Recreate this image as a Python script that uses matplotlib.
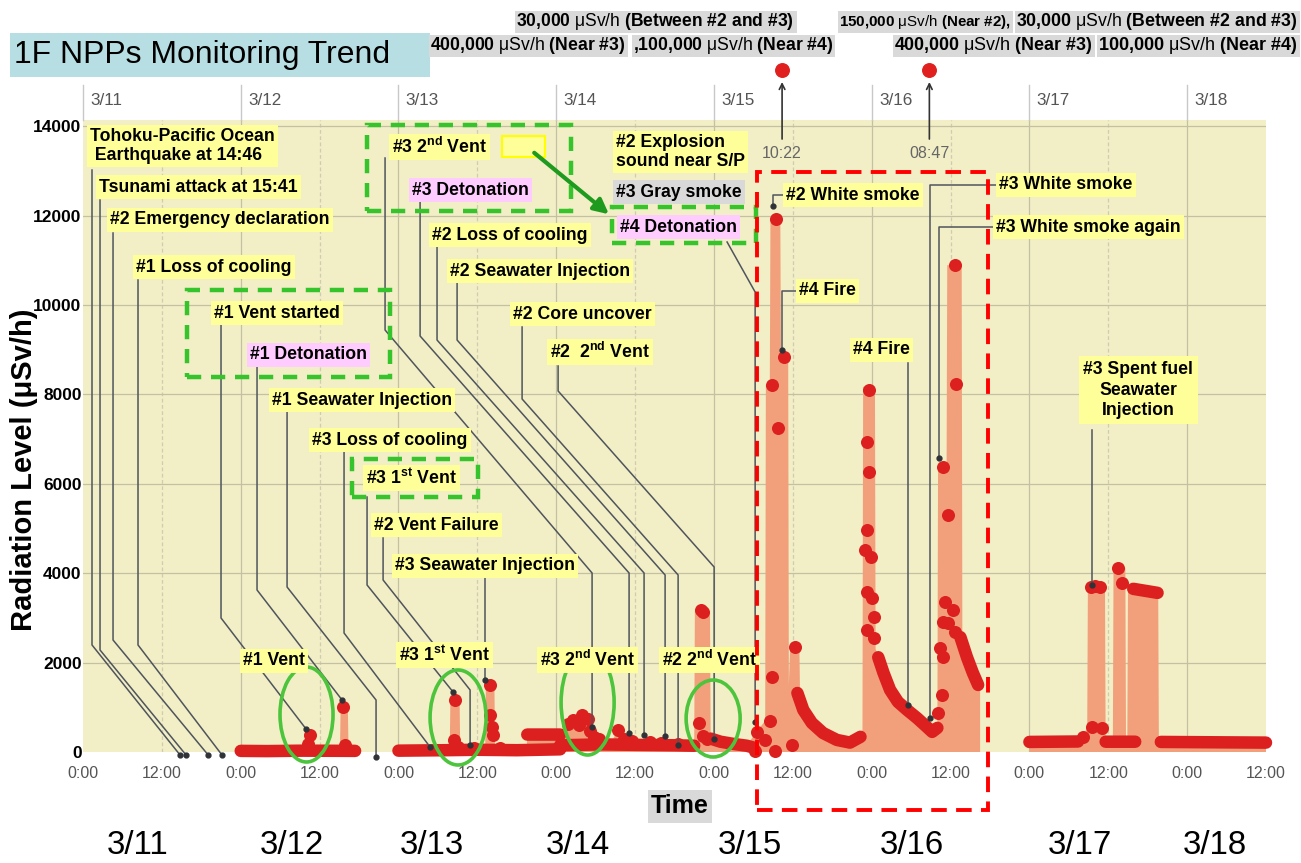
import numpy as np
import matplotlib
matplotlib.use("Agg")
import matplotlib.pyplot as plt
from matplotlib import font_manager as fm
from matplotlib.patches import Rectangle, Ellipse, FancyArrowPatch

nan = np.nan

# hours counted from 3/11 0:00, values in uSv/h
days = ["3/11", "3/12", "3/13", "3/14", "3/15", "3/16", "3/17", "3/18"]

# salmon area under the readings
env_t = [24.0, 34.0, 34.1, 35.0, 35.1, 39.1, 39.2, 40.3, 40.4, 41.4, nan,
         48.0, 55.8, 55.9, 57.3, 57.4, 61.2, 61.3, 62.6, 62.7, 67.5, 67.6, 72.6,
         73.4, 74.8, 76.0, 77.2, 78.5, 80.5, 81.4, 82.5, 86.0, 90.0, 93.0, 93.1,
         95.4, 95.5, 97.0, 99.0, 101.0, 102.5, 103.8, 103.9, 104.5, 104.6, 106.1,
         106.2, 107.3, 107.4, 107.6, 109.0, 109.1, 109.6, 110.9, 112.6, 114.7,
         116.7, 118.3, 118.6, 118.7, 120.5, 120.6, 121.0, 121.8, 122.8, 124.0,
         125.4, 126.9, 128.4, 129.2, 130.0, 130.1, 131.4, 131.5, 133.7, 133.8,
         134.5, 135.4, 136.5, nan,
         144.0, 151.4, 152.2, 152.8, 152.9, 155.5, 155.6, 156.7, 156.8, 158.6,
         158.7, 158.9, 159.0, 163.6, 163.7, 180.0]
env_v = [30, 30, 420, 420, 30, 30, 1000, 1000, 30, 30, nan,
         40, 40, 1160, 1160, 40, 40, 1500, 1500, 40, 40, 390, 390,
         600, 720, 820, 480, 300, 250, 490, 300, 250, 200, 180, 3150,
         3150, 300, 230, 180, 150, 450, 700, 8210, 8210, 11930, 11930,
         8840, 8840, 1500, 2350, 2350, 1320, 940, 650, 425, 270,
         210, 340, 340, 8170, 8170, 2300, 2120, 1770, 1390, 1120,
         940, 760, 560, 450, 540, 6380, 6380, 10890, 10890, 2570,
         2120, 1770, 1500, nan,
         225, 235, 335, 560, 3700, 3700, 230, 230, 4110, 4110,
         230, 230, 3650, 3560, 225, 210]

# dense runs of readings (drawn as a thick dotted band)
trace_t = [24.0, 28.0, 33.5, 41.4, nan,
           48.0, 55.0, 60.0, 66.0, 72.6, nan,
           67.6, 72.6, nan,
           72.6, 78.7, 84.0, 90.0, 93.0, nan,
           95.5, 97.0, 99.0, 101.0, 102.0, nan,
           108.7, 109.6, 110.9, 112.6, 114.7, 116.7, 118.3, nan,
           121.0, 121.8, 122.8, 124.0, 125.4, 126.9, 128.4, 129.2, 130.0, nan,
           133.5, 134.5, 135.4, 136.2, nan,
           144.0, 151.4, nan,
           155.6, 160.1, nan,
           159.8, 163.5, nan,
           164.0, 180.0]
trace_v = [25, 20, 30, 25, nan,
           30, 40, 50, 40, 60, nan,
           390, 390, nan,
           150, 170, 160, 150, 140, nan,
           300, 230, 180, 140, 100, nan,
           1320, 940, 650, 425, 270, 210, 340, nan,
           2120, 1770, 1390, 1120, 940, 760, 560, 450, 540, nan,
           2570, 2120, 1770, 1500, nan,
           225, 235, nan,
           230, 230, nan,
           3650, 3560, nan,
           225, 210]

# single readings
dot_t = [34.5, 34.2, 39.6, 39.8,
         56.6, 56.4, 57.0, 61.9, 62.0, 62.2, 62.4, 59.5, 63.5,
         73.8, 74.6, 75.5, 76.0, 76.8, 77.2, 77.8, 78.5, 81.4, 82.3, 83.5,
         86.3, 88.0, 90.5, 93.8, 94.0, 94.4, 94.3, 95.0,
         102.3, 102.6, 103.8, 104.6, 104.9, 104.9, 105.4, 105.8, 106.6, 105.3,
         107.9, 108.4,
         119.6, 119.3, 119.6, 119.3, 119.0, 119.9, 119.3, 120.1, 120.4, 119.3,
         120.4, 130.1, 130.7, 130.4, 130.9, 130.9, 131.6, 131.2, 132.4, 132.7,
         131.6, 130.9, 132.7, 132.9,
         152.2, 153.6, 155.1, 153.3, 154.0, 154.8, 157.5, 158.1]
dot_v = [380, 180, 1000, 150,
         1160, 270, 120, 1500, 830, 560, 380, 80, 100,
         620, 720, 600, 830, 740, 480, 330, 280, 490, 300, 250,
         230, 210, 190, 650, 3180, 3130, 350, 280,
         20, 450, 270, 700, 1680, 8210, 11930, 7250, 8840, 20,
         150, 2350,
         8100, 6940, 6260, 4970, 4520, 4360, 3580, 3440, 3020, 2730,
         2550, 870, 1280, 2330, 2120, 2900, 2890, 3360, 3180, 2680,
         5300, 6380, 10890, 8230,
         335, 560, 530, 3700, 3720, 3700, 4110, 3780]

# off-scale peaks shown above the chart
peak_t = [106.37, 128.78]
peak_lbl = ["10:22", "08:47"]

# event labels: text, hour, level, box colour
labels = [
    ("Tohoku-Pacific Ocean\n Earthquake at 14:46", 1.07, 13556, "y"),
    ("Tsunami attack at 15:41", 2.43, 12639, "y"),
    ("#2 Emergency declaration", 4.11, 11901, "y"),
    ("#1 Loss of cooling", 8.07, 10849, "y"),
    ("#1 Vent started", 19.94, 9820, "y"),
    ("#1 Detonation", 25.41, 8881, "p"),
    ("#1 Seawater Injection", 28.76, 7874, "y"),
    ("#3 Loss of cooling", 34.85, 6979, "y"),
    (r"#3 1$^{\mathbf{st}}$ Vent", 43.07, 6129, "y"),
    ("#2 Vent Failure", 44.29, 5078, "y"),
    ("#3 Seawater Injection", 47.48, 4161, "y"),
    (r"#3 2$^{\mathbf{nd}}$ Vent", 47.02, 13534, "y"),
    ("#3 Detonation", 50.07, 12572, "p"),
    ("#2 Loss of cooling", 53.11, 11565, "y"),
    ("#2 Seawater Injection", 55.85, 10760, "y"),
    ("#2 Core uncover", 65.44, 9798, "y"),
    (r"#2  2$^{\mathbf{nd}}$ Vent", 71.07, 8948, "y"),
    ("#2 Explosion\nsound near S/P", 81.11, 13422, "y"),
    ("#3 Gray smoke", 81.11, 12527, "g"),
    ("#4 Detonation", 81.72, 11744, "p"),
    ("#2 White smoke", 106.99, 12460, "y"),
    ("#4 Fire", 108.96, 10313, "y"),
    ("#4 Fire", 117.18, 8993, "y"),
    ("#3 White smoke", 139.4, 12684, "y"),
    ("#3 White smoke again", 138.94, 11744, "y"),
    ("#1 Vent", 24.35, 2036, "y"),
    (r"#3 1$^{\mathbf{st}}$ Vent", 48.09, 2170, "y"),
    (r"#3 2$^{\mathbf{nd}}$ Vent", 69.55, 2058, "y"),
    (r"#2 2$^{\mathbf{nd}}$ Vent", 88.11, 2058, "y"),
]

# leader lines from the labels down to the events
leaders = [
    [(1.37, 13019), (1.37, 2394), (14.77, -67)],
    [(2.59, 12348), (2.59, 2282), (15.68, -67)],
    [(4.57, 11610), (4.57, 2505), (19.05, -67)],
    [(8.37, 10559), (8.37, 2394), (21.15, -67)],
    [(21.0, 9552), (21.0, 2998), (33.94, 515)],
    [(26.48, 8612), (26.48, 3624), (39.42, 1163)],
    [(31.05, 7606), (31.05, 3691), (44.59, 1163), (44.59, -112)],
    [(39.72, 6711), (39.72, 2662), (52.81, 112)],
    [(43.22, 5704), (43.22, 3736), (56.31, 1342)],
    [(45.66, 4787), (45.66, 3848), (58.9, 1387), (58.9, 157)],
    [(61.18, 3892), (61.18, 1611)],
    [(45.96, 13288), (45.96, 9440), (77.46, 4004), (77.46, 559)],
    [(51.29, 12304), (51.29, 9306), (83.09, 4004), (83.09, 425)],
    [(53.87, 11297), (53.87, 9216), (85.37, 4004), (85.37, 380)],
    [(56.92, 10492), (56.92, 9216), (88.57, 3960), (88.57, 358)],
    [(66.81, 9507), (66.81, 7897), (90.55, 3960), (90.55, 157)],
    [(72.29, 8635), (72.29, 8076), (96.03, 4138), (96.03, 291)],
    [(98.0, 11409), (102.27, 10290), (102.27, 671)],
    [(106.99, 12460), (105.0, 12460), (105.0, 12214)],
    [(108.81, 10313), (106.38, 10313), (106.38, 8993)],
    [(125.55, 8702), (125.55, 1051)],
    [(139.25, 12684), (128.9, 12684), (128.9, 761)],
    [(138.79, 11744), (130.27, 11744), (130.27, 6577)],
    [(153.55, 7203), (153.55, 3736)],
]

hdr_parts = [
    [("30,000 ", 1), ("μSv/h ", 0), ("(Between #2 and #3)", 1)],
    [("400,000 ", 1), ("μSv/h ", 0), ("(Near #3)", 1)],
    [(",100,000 ", 1), ("μSv/h ", 0), ("(Near #4)", 1)],
    [("150,000 ", 1), ("μSv/h ", 0), ("(Near #2),", 1)],
    [("30,000 ", 1), ("μSv/h ", 0), ("(Between #2 and #3)", 1)],
    [("400,000 ", 1), ("μSv/h ", 0), ("(Near #3)", 1)],
    [("100,000 ", 1), ("μSv/h ", 0), ("(Near #4)", 1)],
]
# left edge, centre line, width of each header strip (pixels)
hdr_box = [(515, 22, 282), (429, 46, 199), (632, 46, 203), (838, 22, 175),
           (1015, 22, 285), (893, 46, 202), (1097, 46, 203)]
date_x = [138, 292, 432, 578, 750, 912, 1080, 1215]

# fonts: condensed look if available
names = {f.name for f in fm.fontManager.ttflist}
NARROW = "Liberation Sans Narrow" in names
FONT = "Liberation Sans Narrow" if NARROW else "Liberation Sans"
K = 1.0 if NARROW else 0.82
plt.rcParams["font.family"] = [FONT, "DejaVu Sans"]
plt.rcParams["mathtext.fontset"] = "custom"
plt.rcParams["mathtext.rm"] = FONT
plt.rcParams["mathtext.bf"] = FONT + ":bold"
plt.rcParams["mathtext.it"] = FONT + ":italic"

W, H = 1301, 863
fig = plt.figure(figsize=(W / 100, H / 100), dpi=100)
fig.patch.set_facecolor("white")
ax = fig.add_axes([83 / W, 1 - 752 / H, (1266 - 83) / W, (752 - 120) / H])
ax.set_facecolor("#f2eec6")
ax.set_xlim(0, 180)
ax.set_ylim(0, 14138)
for s in ax.spines.values():
    s.set_visible(False)


def fx(px):
    return px / W


def fy(py):
    return 1 - py / H


# grid
for h in range(12, 180, 12):
    day = h % 24 == 0
    ax.axvline(h, color="#c4c0a2" if day else "#d0ccb0", lw=0.9,
               ls="-" if day else (0, (3, 2)), zorder=0.5)
for v in range(2000, 14001, 2000):
    ax.axhline(v, color="#c4c0a2", lw=0.9, zorder=0.5)

ax.set_yticks(range(0, 14001, 2000))
ax.set_yticklabels([str(v) for v in range(0, 14001, 2000)],
                   fontweight="bold", fontsize=12.5, family="Liberation Sans")
ax.set_xticks(range(0, 181, 12))
ax.set_xticklabels(["0:00" if h % 24 == 0 else "12:00" for h in range(0, 181, 12)],
                   fontsize=11.5, color="#555555", family="Liberation Sans")
ax.tick_params(length=0)
ax.tick_params(axis="y", pad=1)
ax.tick_params(axis="x", pad=10)

# data
red = "#dc1f1f"
ax.fill_between(env_t, env_v, 0, color="#f2a07c", lw=0, zorder=1)
ax.plot(trace_t, trace_v, color=red, lw=9, solid_capstyle="round",
        solid_joinstyle="round", zorder=2, clip_on=False)
ax.scatter(dot_t, dot_v, s=88, color=red, lw=0, zorder=2.5, clip_on=False)

# leader lines
for pts in leaders:
    xs, ys = zip(*pts)
    ax.plot(xs, ys, color="#4f555c", lw=1.1, zorder=3, clip_on=False)
    ax.plot(xs[-1], ys[-1], "o", color="#2f3338", ms=3.5, zorder=3.5, clip_on=False)

# off-scale peaks
for t, lbl in zip(peak_t, peak_lbl):
    ax.annotate("", xy=(t, 15050), xytext=(t, 13650), annotation_clip=False,
                arrowprops=dict(arrowstyle="->", color="#333333", lw=1.2))
    ax.scatter([t], [15257], s=95, color="#e0201e", zorder=5, clip_on=False)
    ax.text(t, 13380, lbl, ha="center", va="center", fontsize=11.5,
            color="#666666", zorder=5)

# event labels
box_fc = {"y": "#ffff99", "p": "#ffccff", "g": "#d9d9d9"}
LS = 15.5 * K
for txt, t, v, c in labels:
    ax.text(t, v, txt, ha="left", va="center", fontsize=LS, fontweight="bold",
            linespacing=1.15, zorder=6,
            bbox=dict(boxstyle="square,pad=0.18", fc=box_fc[c], ec="none"))
ax.text(160.55, 8098, "#3 Spent fuel\nSeawater\nInjection", ha="center", va="center",
        fontsize=LS, fontweight="bold", linespacing=1.3, zorder=6,
        bbox=dict(boxstyle="square,pad=0.25", fc="#ffff99", ec="none"))

# highlight shapes
green = "#36c42c"
for x0, x1, y0, y1 in [(43.22, 74.27, 12102, 14026), (15.83, 46.72, 8388, 10335),
                       (40.94, 60.11, 5704, 6554), (80.5, 102.42, 11386, 12191)]:
    ax.add_patch(Rectangle((x0, y0), x1 - x0, y1 - y0, fill=False, ec=green, lw=3.2,
                           ls=(0, (3.2, 2.2)), zorder=7, clip_on=False))
ax.add_patch(Rectangle((63.77, 13310), 6.54, 470, fc="#ffff99", ec="#ffff00", lw=1.5,
                       zorder=6))
ax.add_patch(FancyArrowPatch((68.33, 13444), (80.35, 11990), arrowstyle="-|>",
                             mutation_scale=22, color="#1e9a1e", lw=3, zorder=8))
for cx, cy, w, h in [(34.01, 839, 8.07, 2125), (57.07, 772, 8.52, 2125),
                     (76.78, 1107, 8.07, 2349), (95.88, 749, 8.22, 1722)]:
    ax.add_patch(Ellipse((cx, cy), w, h, fill=False, ec="#4cc43c", lw=2.6,
                         zorder=4, clip_on=False))
ax.add_patch(Rectangle((102.6, -1297), 35.1, 14272, fill=False, ec="#ff0000", lw=2.8,
                       ls=(0, (4, 2.4)), zorder=7, clip_on=False))

# top date strip
trans = ax.get_xaxis_transform()
for i, d in enumerate(days):
    ax.plot([i * 24, i * 24], [1.0, 1.055], transform=trans, color="#c8c8c8",
            lw=1, clip_on=False)
    ax.text(i * 24 + 1.1, 1.031, d, transform=trans, ha="left", va="center",
            fontsize=15 * K, color="#555555")

# figure-level text
fig.patches.append(Rectangle((fx(10), fy(77)), fx(420), 44 / H, fc="#b7dfe3", ec="none",
                             transform=fig.transFigure, zorder=0))
fig.text(fx(14), fy(55), "1F NPPs Monitoring Trend", fontsize=28 * K, va="center")


def mt(parts):
    out = ""
    for s, b in parts:
        s = s.replace("#", r"\#").replace(" ", r"\ ").replace(",", "{,}")
        out += (r"\mathbf{%s}" if b else r"\mathrm{%s}") % s
    return "$" + out + "$"


# header strips: grey band, text fitted to the strip width
renderer = fig.canvas.get_renderer()
for parts, (x, y, w) in zip(hdr_parts, hdr_box):
    fig.patches.append(Rectangle((fx(x), fy(y + 11)), w / W, 22 / H, fc="#d9d9d9",
                                 ec="none", transform=fig.transFigure, zorder=0))
    fs = 14.6 * K
    txt = fig.text(fx(x + 1), fy(y), mt(parts), fontsize=fs, va="center", ha="left")
    tw = txt.get_window_extent(renderer).width
    txt.set_fontsize(min(fs * (w - 3) / tw, 13.5))

fig.text(fx(24), fy(470), "Radiation Level (μSv/h)", rotation=90, ha="center",
         va="center", fontsize=21, fontweight="bold", family="Liberation Sans")
fig.patches.append(Rectangle((fx(648), fy(823)), 64 / W, 33 / H, fc="#d9d9d9", ec="none",
                             transform=fig.transFigure, zorder=0))
fig.text(fx(680), fy(806), "Time", ha="center", va="center", fontsize=22 * K,
         fontweight="bold")
for d, x in zip(days, date_x):
    fig.text(fx(x), fy(845), d, ha="center", va="center", fontsize=29 * K)

fig.savefig("out.png", dpi=100)
